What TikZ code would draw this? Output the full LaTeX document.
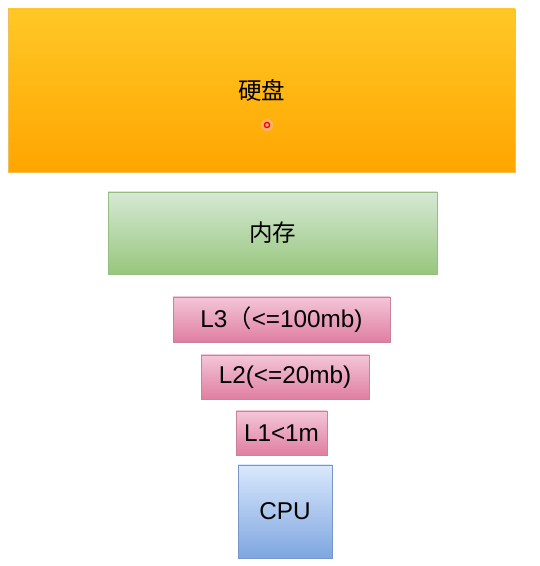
\documentclass[tikz,border=0pt]{standalone}
\usepackage{fontspec}
\setmainfont{Liberation Sans}
\newfontfamily\cjk{Noto Sans CJK SC}
\begin{document}
\begin{tikzpicture}[x=1pt,y=1pt,
  box/.style={rectangle,inner sep=0pt,line width=0.8pt,font=\fontsize{24.3}{28}\selectfont},
  disk/.style={box,draw=hdline,top color=hdtop,bottom color=hdbot},
  mem/.style={box,draw=memline,top color=memtop,bottom color=membot},
  cache/.style={box,draw=cacheline,top color=cachetop,bottom color=cachebot},
  cpu/.style={box,draw=cpuline,top color=cputop,bottom color=cpubot}]
\definecolor{hdtop}{RGB}{255,200,38}
\definecolor{hdbot}{RGB}{255,165,0}
\definecolor{hdline}{RGB}{240,190,90}
\definecolor{memtop}{RGB}{214,233,212}
\definecolor{membot}{RGB}{151,198,125}
\definecolor{memline}{RGB}{150,190,130}
\definecolor{cachetop}{RGB}{243,198,215}
\definecolor{cachebot}{RGB}{224,126,160}
\definecolor{cacheline}{RGB}{200,130,155}
\definecolor{cputop}{RGB}{218,232,252}
\definecolor{cpubot}{RGB}{126,166,224}
\definecolor{cpuline}{RGB}{120,150,200}
\useasboundingbox (0,0) rectangle (540,566);
\fill[white] (0,0) rectangle (540,566);
\node[disk,minimum width=507pt,minimum height=163pt] (hd) at (261.5,475.5) {};
\node[font=\cjk\fontsize{23.5}{27}\selectfont] (hdt) at (261.5,476) {硬盘};
\node[mem,minimum width=329pt,minimum height=82pt] (mem) at (272.5,333) {\cjk\fontsize{23.5}{27}\selectfont 内存};
\node[cache,minimum width=217pt,minimum height=45pt] (l3) at (281.5,246.5) {L3{\cjk（}<=100mb)};
\node[cache,minimum width=168pt,minimum height=44pt] (l2) at (285,189) {L2(<=20mb)};
\node[cache,minimum width=91pt,minimum height=44pt] (l1) at (281.5,133) {L1<1m};
\node[cpu,minimum width=94pt,minimum height=93pt] (cpu) at (285,54.5) {CPU};
\fill[red!30,opacity=0.6] (267,441) circle (6pt);
\draw[red,line width=1.3pt] (267,441) circle (2.6pt);
\end{tikzpicture}
\end{document}
